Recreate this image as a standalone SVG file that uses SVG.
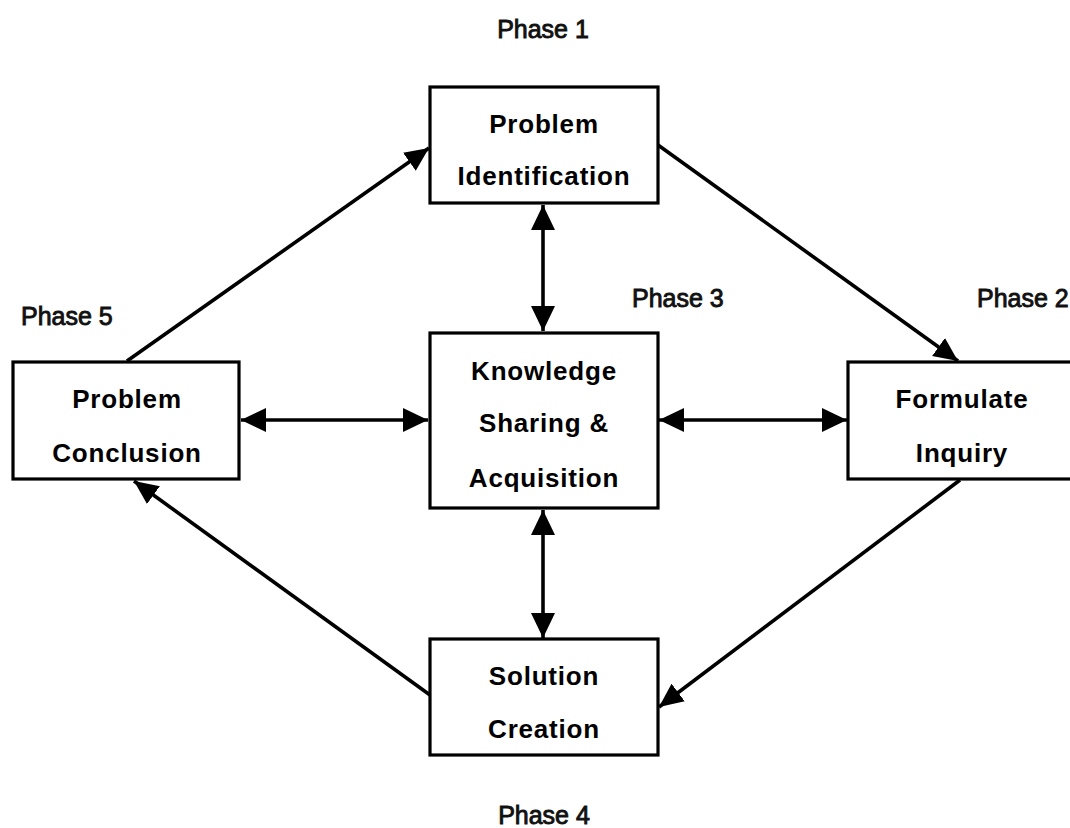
<svg xmlns="http://www.w3.org/2000/svg" width="1070" height="828" viewBox="0 0 1070 828">
  <style>
    .box { fill: #ffffff; stroke: #000000; stroke-width: 3.2; }
    .label { font-family: "Liberation Sans", Arial, sans-serif; font-weight: bold; font-size: 26px; letter-spacing: 0.8px; fill: #000000; text-anchor: middle; }
    .phase { font-family: "Liberation Sans", Arial, sans-serif; font-size: 25px; fill: #111111; stroke: #111111; stroke-width: 0.9; }
    .link { fill: none; stroke: #000000; stroke-width: 3.6; }
  </style>
  <defs>
    <marker id="head" markerUnits="userSpaceOnUse" markerWidth="26" markerHeight="24" refX="25" refY="12" orient="auto-start-reverse" viewBox="0 0 26 24">
      <path d="M0,0 L25,12 L0,24 z" fill="#000000"/>
    </marker>
    <marker id="head-s" markerUnits="userSpaceOnUse" markerWidth="25" markerHeight="24" refX="24" refY="12" orient="auto" viewBox="0 0 25 24">
      <path d="M0,1 L24,12 L0,23 z" fill="#000000"/>
    </marker>
  </defs>

  <rect width="1070" height="828" fill="#ffffff"/>

  <!-- connectors -->
  <g id="connectors">
    <!-- cycle around the outer boxes -->
    <line class="link" x1="127" y1="361" x2="429" y2="148" marker-end="url(#head-s)"/>
    <line class="link" x1="658" y1="145" x2="958" y2="361" marker-end="url(#head-s)"/>
    <line class="link" x1="960" y1="480" x2="659" y2="707" marker-end="url(#head-s)"/>
    <line class="link" x1="430" y1="695" x2="134" y2="481" marker-end="url(#head-s)"/>
    <!-- two-way links with the central box -->
    <line class="link" x1="543" y1="205" x2="543" y2="331" marker-start="url(#head)" marker-end="url(#head)"/>
    <line class="link" x1="543" y1="510" x2="543" y2="638" marker-start="url(#head)" marker-end="url(#head)"/>
    <line class="link" x1="241" y1="420" x2="428" y2="420" marker-start="url(#head)" marker-end="url(#head)"/>
    <line class="link" x1="659" y1="420" x2="847" y2="420" marker-start="url(#head)" marker-end="url(#head)"/>
  </g>

  <g id="problem-identification">
    <rect class="box" x="430" y="87" width="228" height="116"/>
    <text class="label" x="544" y="133">Problem</text>
    <text class="label" x="544" y="185">Identification</text>
  </g>

  <g id="knowledge-sharing">
    <rect class="box" x="430" y="333" width="228" height="175"/>
    <text class="label" x="544" y="380">Knowledge</text>
    <text class="label" x="544" y="432">Sharing &amp;</text>
    <text class="label" x="544" y="487">Acquisition</text>
  </g>

  <g id="problem-conclusion">
    <rect class="box" x="13" y="362" width="226" height="117"/>
    <text class="label" x="127" y="408">Problem</text>
    <text class="label" x="127" y="462">Conclusion</text>
  </g>

  <g id="formulate-inquiry">
    <rect class="box" x="848" y="362" width="240" height="117"/>
    <text class="label" x="962" y="408">Formulate</text>
    <text class="label" x="962" y="462">Inquiry</text>
  </g>

  <g id="solution-creation">
    <rect class="box" x="430" y="639" width="228" height="116"/>
    <text class="label" x="544" y="685">Solution</text>
    <text class="label" x="544" y="738">Creation</text>
  </g>

  <g id="phase-labels">
    <text class="phase" x="543" y="38" text-anchor="middle">Phase 1</text>
    <text class="phase" x="977" y="307">Phase 2</text>
    <text class="phase" x="632" y="307">Phase 3</text>
    <text class="phase" x="544" y="824" text-anchor="middle">Phase 4</text>
    <text class="phase" x="21" y="325">Phase 5</text>
  </g>
</svg>
